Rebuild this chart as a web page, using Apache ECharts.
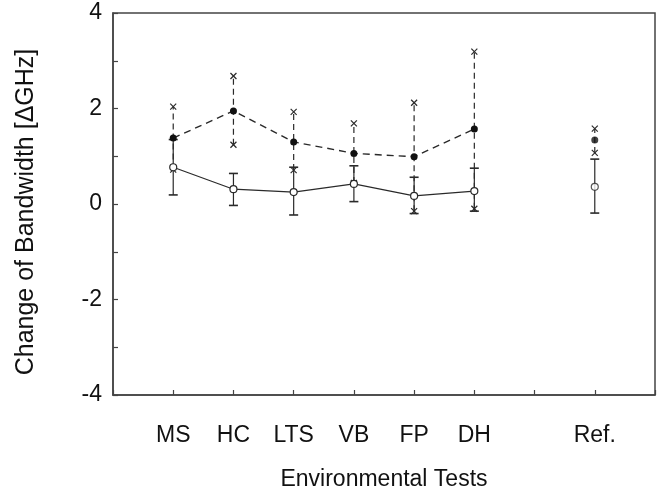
<!DOCTYPE html>
<html>
<head>
<meta charset="utf-8">
<script src="https://cdn.jsdelivr.net/npm/echarts@6/dist/echarts.min.js"></script>
<style>
html,body{margin:0;padding:0;background:#fff;}
#c{width:664px;height:490px;}
</style>
</head>
<body>
<div id="c"></div>
<script>
// ---- data ----
const categories = ['MS', 'HC', 'LTS', 'VB', 'FP', 'DH', 'Ref.'];
const xPos = [1, 2, 3, 4, 5, 6, 8];
const yTickLabels = ['-4', '-2', '0', '2', '4'];
// solid series (open circles)
const openMean = [0.77, 0.31, 0.25, 0.42, 0.17, 0.27, 0.36];
const openHigh = [1.35, 0.64, 0.77, 0.80, 0.56, 0.75, 0.94];
const openLow  = [0.19, -0.03, -0.23, 0.05, -0.20, -0.15, -0.19];
// dashed series (filled circles)
const filledMean = [1.38, 1.95, 1.30, 1.06, 0.99, 1.57, 1.34];
const filledHigh = [2.04, 2.68, 1.93, 1.69, 2.12, 3.19, 1.58];
const filledLow  = [0.72, 1.24, 0.71, 0.44, -0.15, -0.10, 1.07];

const labelAt = {};
xPos.forEach((p, i) => { labelAt[p] = categories[i]; });

const ink = '#2a2a2a';
const FONT = 'Liberation Sans, Arial, sans-serif';

function pts(mean, from, to) {
  const out = [];
  for (let i = from; i < to; i++) out.push([xPos[i], mean[i]]);
  return out;
}
function bars(lo, hi) {
  return xPos.map((p, i) => [p, lo[i], hi[i]]);
}

function errRender(dashed) {
  return function (params, api) {
    const x = api.value(0), lo = api.value(1), hi = api.value(2);
    const a = api.coord([x, lo]), b = api.coord([x, hi]);
    const st = { stroke: ink, lineWidth: 1.2, fill: null };
    const stD = dashed ? Object.assign({}, st, { lineDash: [6, 4] }) : st;
    const children = [{
      type: 'line', shape: { x1: a[0], y1: a[1], x2: b[0], y2: b[1] }, style: stD
    }];
    [a, b].forEach(p => {
      if (dashed) {
        const d = 3;
        children.push({ type: 'line', shape: { x1: p[0] - d, y1: p[1] - d, x2: p[0] + d, y2: p[1] + d }, style: st });
        children.push({ type: 'line', shape: { x1: p[0] - d, y1: p[1] + d, x2: p[0] + d, y2: p[1] - d }, style: st });
      } else {
        children.push({ type: 'line', shape: { x1: p[0] - 4.5, y1: p[1], x2: p[0] + 4.5, y2: p[1] }, style: Object.assign({}, st, { lineWidth: 1.6 }) });
      }
    });
    return { type: 'group', children: children };
  };
}

const chart = echarts.init(document.getElementById('c'), null, { renderer: 'canvas' });
chart.setOption({
  animation: false,
  backgroundColor: '#fff',
  textStyle: { fontFamily: FONT },
  grid: {
    left: 113, right: 9, top: 13, bottom: 95, containLabel: false, outerBoundsMode: 'none',
    show: true, borderColor: '#444', borderWidth: 1.5, backgroundColor: 'transparent'
  },
  graphic: [{
    type: 'text', z: 10, x: 26, y: 212, rotation: Math.PI / 2,
    style: {
      text: 'Change of Bandwidth [\u0394GHz]', font: '25px "Liberation Sans", Arial, sans-serif',
      fill: '#111', align: 'center', verticalAlign: 'middle'
    }
  }],
  xAxis: {
    type: 'value', min: 0, max: 9, interval: 1,
    name: 'Environmental Tests', nameLocation: 'middle', nameGap: 73,
    nameTextStyle: { fontSize: 23, color: '#111', fontFamily: FONT },
    axisLine: { show: true, onZero: false, lineStyle: { color: '#444', width: 1.5 } },
    axisTick: { show: true, inside: true, length: 5, lineStyle: { color: '#444', width: 1.2 } },
    splitLine: { show: false },
    axisLabel: {
      margin: 29, fontSize: 23, color: '#111', fontFamily: FONT,
      formatter: v => labelAt[v] || ''
    }
  },
  yAxis: {
    type: 'value', min: -4, max: 4, interval: 1,
    axisLine: { show: true, onZero: false, lineStyle: { color: '#444', width: 1.5 } },
    axisTick: { show: true, inside: true, length: 5, lineStyle: { color: '#444', width: 1.2 } },
    splitLine: { show: false },
    axisLabel: {
      margin: 11, fontSize: 23, color: '#111', fontFamily: FONT,
      formatter: v => (yTickLabels.indexOf(String(v)) >= 0 ? String(v) : '')
    }
  },
  series: [
    {
      type: 'custom', renderItem: errRender(true), data: bars(filledLow, filledHigh),
      encode: { x: 0, y: [1, 2] }, z: 2, silent: true
    },
    {
      type: 'custom', renderItem: errRender(false), data: bars(openLow, openHigh),
      encode: { x: 0, y: [1, 2] }, z: 3, silent: true
    },
    {
      type: 'line', data: pts(filledMean, 0, 6), z: 4,
      lineStyle: { color: ink, width: 1.4, type: [7, 5] },
      symbol: 'circle', symbolSize: 7, itemStyle: { color: '#111' }
    },
    {
      type: 'scatter', data: pts(filledMean, 6, 7), z: 4,
      symbol: 'circle', symbolSize: 7, itemStyle: { color: '#111' }
    },
    {
      type: 'line', data: pts(openMean, 0, 6), z: 5,
      lineStyle: { color: ink, width: 1.2 },
      symbol: 'circle', symbolSize: 7, itemStyle: { color: '#fff', borderColor: ink, borderWidth: 1.2 }
    },
    {
      type: 'scatter', data: pts(openMean, 6, 7), z: 5,
      symbol: 'circle', symbolSize: 7, itemStyle: { color: '#fff', borderColor: ink, borderWidth: 1.2 }
    }
  ]
});
</script>
</body>
</html>
